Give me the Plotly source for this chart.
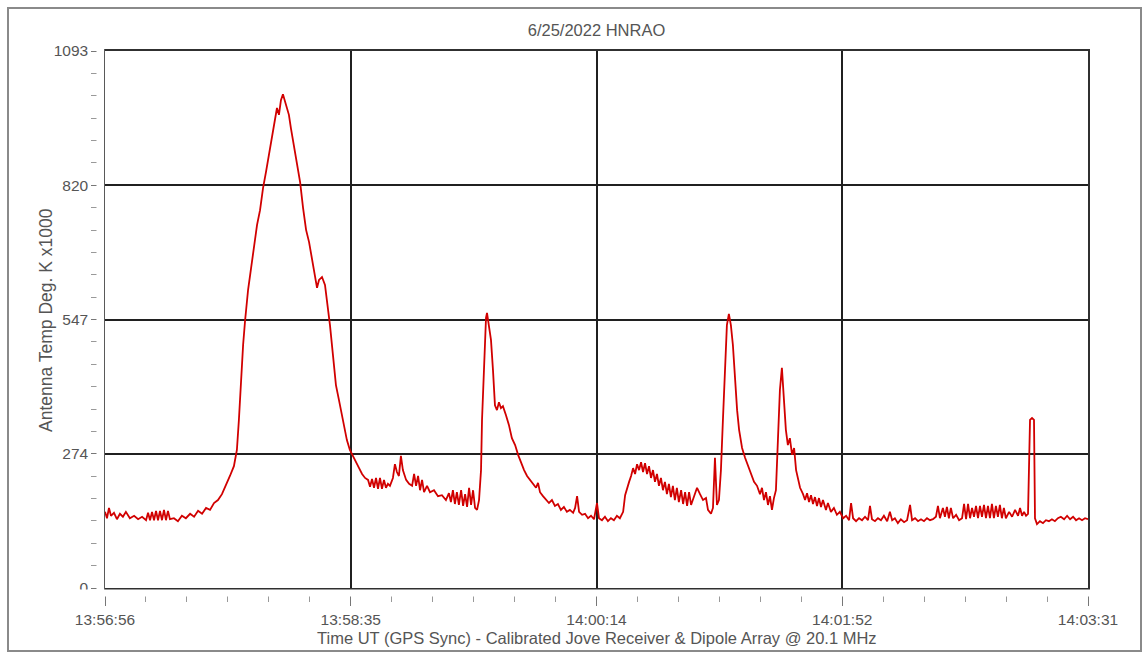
import plotly.graph_objects as go

# ---- data (seconds after 13:56:56, antenna temp K x1000) ----
t_sec = [0, 0.8, 1.6, 2.4, 3.6, 4.8, 6.0, 7.2, 8.4, 10.0, 11.7, 13.3, 14.9, 16.5, 17.3, 18.1, 18.9, 19.7,
         20.5, 21.3, 22.1, 22.9, 23.7, 24.5, 25.3, 26.1, 27.7, 29.3, 30.9, 32.5, 34.2, 35.8, 37.4, 39.0,
         40.6, 42.2, 43.8, 45.4, 47.0, 48.6, 50.2, 51.8, 53.0, 53.8, 54.6, 55.5, 56.3, 57.5, 58.7, 59.9,
         61.1, 62.3, 63.5, 64.7, 65.9, 67.1, 68.3, 69.1, 69.9, 70.7, 71.5, 72.3, 73.1, 73.9, 74.7, 75.9,
         77.2, 78.4, 79.6, 80.8, 82.0, 83.2, 84.4, 85.2, 86.0, 87.2, 88.4, 89.2, 90.4, 91.6, 92.8, 94.0,
         94.8, 96.0, 97.2, 98.4, 99.7, 100.9, 102.1, 103.3, 104.5, 105.7, 106.5, 107.3, 108.1, 108.9,
         109.7, 110.5, 111.3, 112.1, 112.9, 113.7, 114.5, 115.7, 116.5, 117.3, 118.1, 118.9, 119.7,
         121.0, 122.2, 123.4, 124.2, 125.0, 125.8, 126.6, 127.4, 128.2, 129.4, 130.6, 132.2, 133.8,
         135.4, 137.0, 138.2, 139.0, 139.8, 140.6, 141.4, 142.2, 143.1, 143.9, 144.7, 145.5, 146.3,
         147.1, 147.9, 148.7, 149.5, 150.3, 151.1, 151.5, 152.3, 153.1, 153.5, 154.3, 155.1, 155.9,
         156.7, 157.5, 158.3, 159.1, 159.9, 161.1, 162.3, 163.5, 164.8, 166.0, 167.2, 168.4, 169.6,
         170.8, 172.0, 173.2, 174.0, 174.8, 176.0, 177.2, 178.4, 179.6, 180.8, 182.0, 183.2, 184.4,
         185.6, 186.8, 188.1, 188.9, 189.7, 190.5, 191.7, 192.9, 194.1, 195.3, 196.5, 197.7, 198.5,
         199.7, 200.9, 202.1, 203.3, 204.5, 205.7, 206.9, 208.2, 209.0, 209.8, 210.6, 211.4, 212.2,
         213.0, 213.8, 214.6, 215.4, 216.2, 217.0, 217.8, 218.6, 219.4, 220.2, 221.0, 221.8, 222.6,
         223.4, 224.2, 225.0, 225.8, 226.6, 227.4, 228.2, 229.0, 229.8, 230.6, 231.5, 232.3, 233.1,
         233.9, 234.7, 235.5, 236.7, 237.9, 239.1, 240.3, 241.5, 242.3, 243.5, 244.3, 245.1, 245.9,
         246.7, 247.5, 248.3, 249.1, 249.9, 250.7, 251.5, 252.3, 253.2, 254.0, 254.8, 256.0, 257.2,
         258.4, 259.6, 260.8, 262.0, 263.2, 264.0, 264.8, 265.6, 266.4, 267.2, 268.0, 268.8, 269.6,
         270.4, 271.2, 272.0, 272.8, 273.6, 274.4, 275.2, 276.1, 276.9, 277.7, 278.5, 279.3, 280.5,
         281.3, 282.1, 282.9, 283.7, 284.5, 285.3, 286.1, 286.9, 287.7, 288.5, 289.7, 290.5, 291.7,
         292.9, 294.1, 295.3, 296.6, 297.8, 299.0, 299.8, 300.6, 301.8, 303.0, 304.2, 305.4, 306.6,
         307.4, 308.2, 309.4, 310.6, 311.8, 313.0, 314.3, 315.4, 316.3, 317.4, 318.6, 319.8, 321.1,
         322.3, 323.5, 324.3, 325.5, 326.7, 327.9, 329.1, 330.3, 331.5, 332.7, 333.9, 334.7, 335.5,
         336.7, 337.5, 338.3, 339.1, 339.9, 340.8, 342.0, 343.2, 344.4, 345.2, 346.0, 346.8, 347.6,
         348.4, 349.2, 350.0, 350.8, 351.6, 352.4, 353.2, 354.0, 354.8, 355.6, 356.4, 357.2, 358.0,
         358.8, 359.6, 360.4, 361.2, 362.0, 363.3, 364.5, 365.7, 366.9, 367.7, 368.5, 369.3, 370.1,
         370.9, 371.7, 372.5, 373.3, 373.7, 374.5, 375.7, 376.9, 378.1, 379.3, 380.5, 381.7, 382.9,
         384.1, 385.4, 386.6, 387.8, 389.0, 390.2, 391.4, 392.6, 393.8, 395.0]

temp_k = [155, 142, 163, 147, 153, 140, 151, 145, 155, 142, 147, 140, 145, 138, 153, 138, 155, 138,
          157, 138, 157, 138, 159, 138, 157, 140, 142, 136, 147, 142, 151, 145, 157, 151,
          163, 159, 173, 179, 191, 208, 228, 248, 281, 342, 423, 495, 545, 607, 651, 698,
          739, 769, 814, 847, 881, 922, 957, 977, 963, 993, 1005, 989, 973, 963, 936, 902,
          867, 826, 773, 729, 704, 672, 637, 611, 627, 633, 617, 586, 535, 474, 413, 383,
          362, 332, 301, 281, 267, 256, 244, 232, 224, 220, 206, 222, 204, 224,
          202, 224, 202, 220, 204, 212, 208, 224, 252, 236, 228, 269, 240,
          220, 212, 208, 232, 208, 228, 199, 220, 195, 208, 195, 199, 187,
          189, 179, 193, 175, 199, 171, 195, 169, 199, 167, 191, 165, 204,
          169, 199, 163, 159, 179, 240, 342, 464, 550, 560, 535, 505, 444,
          372, 362, 378, 366, 370, 352, 332, 305, 291, 271, 254, 240, 228,
          220, 212, 204, 214, 195, 187, 179, 173, 179, 167, 171, 159, 165,
          155, 159, 153, 163, 187, 155, 149, 151, 142, 147, 140, 173, 142,
          138, 145, 136, 142, 138, 147, 142, 155, 189, 204, 216, 228, 244,
          232, 252, 240, 256, 236, 254, 232, 248, 224, 240, 216, 232, 208,
          224, 199, 216, 191, 212, 185, 208, 179, 204, 175, 199, 171, 195,
          167, 195, 169, 189, 204, 191, 179, 183, 159, 151, 163, 265, 169,
          179, 240, 342, 444, 535, 558, 535, 495, 423, 362, 322, 285, 265,
          248, 232, 216, 208, 191, 204, 179, 195, 169, 187, 159, 183, 199,
          301, 403, 448, 393, 322, 291, 305, 271, 285, 240, 220, 204, 191,
          179, 193, 175, 189, 171, 185, 167, 183, 165, 179, 159, 173, 155,
          163, 149, 155, 142, 147, 138, 173, 142, 136, 142, 138, 145, 138,
          167, 140, 136, 142, 138, 147, 136, 155, 138, 142, 132, 140, 134,
          138, 169, 138, 142, 136, 140, 136, 142, 138, 140, 145, 167, 142,
          163, 145, 165, 142, 163, 142, 149, 138, 142, 171, 140, 171, 142,
          163, 145, 167, 142, 167, 145, 169, 142, 167, 142, 171, 142, 167,
          145, 169, 142, 163, 142, 155, 145, 159, 147, 163, 147, 155, 147,
          151, 342, 346, 342, 142, 130, 136, 132, 138, 136, 140, 136, 142,
          145, 140, 147, 140, 145, 138, 142, 138, 142, 140]

x_tickvals = [0, 98.75, 197.5, 296.25, 395]
x_ticktext = ["13:56:56", "13:58:35", "14:00:14", "14:01:52", "14:03:31"]
y_tickvals = [0, 273.25, 546.5, 819.75, 1093]
y_ticktext = ["0", "274", "547", "820", "1093"]

title_text = "6/25/2022 HNRAO"
x_label = "Time UT (GPS Sync) - Calibrated Jove Receiver & Dipole Array @ 20.1 MHz"
y_label = "Antenna Temp Deg. K x1000"

W, H = 1145, 656
L, R, T, B = 105, 1088, 51, 588
pw, ph = R - L, B - T


def px_x(p):
    return (p - L) / pw


def px_y(p):
    return (B - p) / ph


FONT = "Liberation Sans, Arial, sans-serif"
TXT = "#555555"

fig = go.Figure()
fig.add_trace(go.Scatter(x=t_sec, y=temp_k, mode="lines",
                         line=dict(color="#d10000", width=1.8), hoverinfo="skip",
                         showlegend=False))

fig.update_layout(
    width=W, height=H,
    margin=dict(l=L, r=W - R, t=T, b=H - B),
    paper_bgcolor="white", plot_bgcolor="white",
    font=dict(family=FONT, size=15, color=TXT),
    title=dict(text=title_text, x=0.5, xref="paper", y=1 - 30 / H, yref="container",
               yanchor="middle", xanchor="center", font=dict(size=16.5, color=TXT)),
)

fig.update_xaxes(
    range=[0, 395], tickmode="array", tickvals=x_tickvals, ticktext=x_ticktext,
    showgrid=True, gridcolor="#202020", gridwidth=1.5,
    showline=True, linecolor="#303030", linewidth=1.5, mirror=True,
    ticks="outside", ticklen=16, tickcolor="#777777", tickwidth=1,
    ticklabelstandoff=1,
    minor=dict(tickmode="linear", tick0=0, dtick=395 / 24, ticks="outside",
               ticklen=12, tickcolor="#999999", showgrid=False),
    zeroline=False, tickfont=dict(size=15.5, color=TXT),
)
fig.update_yaxes(
    range=[0, 1093], tickmode="array", tickvals=y_tickvals, ticktext=y_ticktext,
    showgrid=True, gridcolor="#202020", gridwidth=1.5,
    showline=True, linecolor="#303030", linewidth=1.5, mirror=True,
    ticks="outside", ticklen=12, tickcolor="#777777", tickwidth=1,
    minor=dict(tickmode="linear", tick0=0, dtick=1093 / 24, ticks="outside",
               ticklen=12, tickcolor="#999999", showgrid=False),
    zeroline=False, tickfont=dict(size=15.5, color=TXT),
)

# masks to detach ticks from the axis lines
fig.add_shape(type="rect", xref="paper", yref="paper", layer="above",
              x0=px_x(60), x1=px_x(1100), y0=px_y(589.6), y1=px_y(596.5),
              line=dict(width=0), fillcolor="white")
fig.add_shape(type="rect", xref="paper", yref="paper", layer="above",
              x0=px_x(96.5), x1=px_x(104.2), y0=px_y(600), y1=px_y(40),
              line=dict(width=0), fillcolor="white")
# outer frame
fig.add_shape(type="rect", xref="paper", yref="paper", layer="above",
              x0=px_x(8), x1=px_x(1141), y0=px_y(651), y1=px_y(8),
              line=dict(color="#8a8a8a", width=2), fillcolor="rgba(0,0,0,0)")

fig.add_annotation(text=x_label, xref="paper", yref="paper", x=0.5, y=px_y(638),
                   showarrow=False, xanchor="center", yanchor="middle",
                   font=dict(size=16.5, color=TXT))
fig.add_annotation(text=y_label, xref="paper", yref="paper", x=px_x(46), y=px_y(320),
                   showarrow=False, xanchor="center", yanchor="middle", textangle=-90,
                   font=dict(size=17.5, color=TXT))

fig.write_html("out.html", config={"displayModeBar": False},
               post_script="document.body.style.margin='0';document.body.style.overflow='hidden';")
